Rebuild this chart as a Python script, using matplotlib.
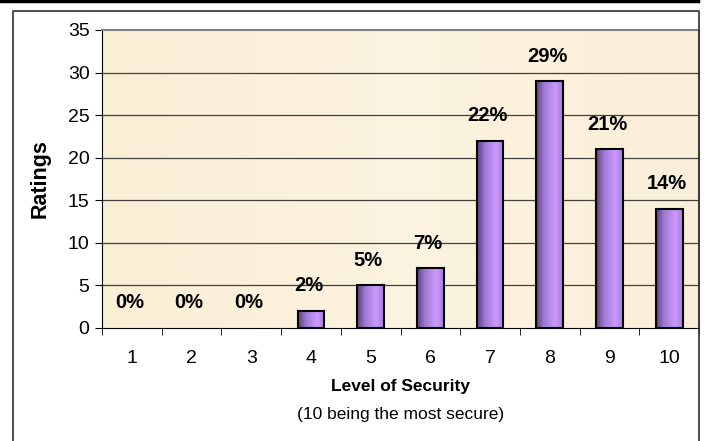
import numpy as np
import matplotlib
matplotlib.use("Agg")
import matplotlib.pyplot as plt
from matplotlib.patches import Rectangle
from matplotlib.lines import Line2D
from matplotlib.colors import LinearSegmentedColormap

categories = ["1", "2", "3", "4", "5", "6", "7", "8", "9", "10"]
ratings = [0, 0, 0, 2, 5, 7, 22, 29, 21, 14]
pct_labels = ["0%", "0%", "0%", "2%", "5%", "7%", "22%", "29%", "21%", "14%"]
y_ticks = [0, 5, 10, 15, 20, 25, 30, 35]

plt.rcParams['font.family'] = ['Liberation Sans', 'DejaVu Sans']

W, H = 704, 441
fig = plt.figure(figsize=(W / 100, H / 100), dpi=100)

# outer frame and top black line
fig.add_artist(Line2D([0, 698 / W], [1 - 1 / H, 1 - 1 / H], color='black', lw=2.5,
                      transform=fig.transFigure))
fig.add_artist(Line2D([13 / W, 13 / W, 699 / W, 699 / W],
                      [0, 1 - 11 / H, 1 - 11 / H, 0], color='#303030', lw=1.2,
                      transform=fig.transFigure))

left, right, top, bottom = 102, 699, 30, 328
ax = fig.add_axes([left / W, 1 - bottom / H, (right - left) / W, (bottom - top) / H])

# background gradient (beige)
bg = LinearSegmentedColormap.from_list('bg', ['#FAEED5', '#FCF3E0', '#FAEFD8'])
ax.imshow(np.linspace(0, 1, 256).reshape(1, -1), cmap=bg, aspect='auto',
          extent=[-0.5, len(categories) - 0.5, 0, 35], zorder=0)

x = np.arange(len(categories))
ax.set_xlim(-0.5, len(categories) - 0.5)
ax.set_ylim(0, 35)

for yv in y_ticks[1:-1]:
    ax.axhline(yv, color='#404040', lw=0.9, zorder=1)

bar_cmap = LinearSegmentedColormap.from_list(
    'bar', [(0.0, '#5E3E82'), (0.3, '#A07AD4'), (0.72, '#CC99FF'), (1.0, '#A87ED4')])
bars = ax.bar(x, ratings, width=0.45, color='none', edgecolor='black', linewidth=1.5, zorder=3)
for b in bars:
    if b.get_height() <= 0:
        b.set_linewidth(0)
        continue
    x0, w, h = b.get_x(), b.get_width(), b.get_height()
    im = ax.imshow(np.linspace(0, 1, 64).reshape(1, -1), cmap=bar_cmap, aspect='auto',
                   extent=[x0, x0 + w, 0, h], zorder=2)
    clip = Rectangle((x0, 0), w, h, transform=ax.transData)
    im.set_clip_path(clip)

for xi, v, lab in zip(x, ratings, pct_labels):
    ax.annotate(lab, (xi - 0.04, v), xytext=(0, 18), textcoords='offset points',
                ha='center', va='center', fontsize=14.5, fontweight='bold', zorder=5)

ax.set_yticks(y_ticks)
ax.set_yticklabels([str(t) for t in y_ticks], fontsize=14)
ax.set_xticks(x)
ax.set_xticklabels(categories, fontsize=14)
ax.tick_params(axis='x', length=0, pad=16)
ax.set_xticks(np.arange(-0.5, len(categories)), minor=True)
ax.tick_params(axis='x', which='minor', length=5, direction='out', color='black')
ax.tick_params(axis='y', length=5, direction='out', color='black', pad=4)

for s in ['top', 'right']:
    ax.spines[s].set_color('#808080')
    ax.spines[s].set_linewidth(1.5)
ax.spines['left'].set_color('black')
ax.spines['bottom'].set_color('black')

ax.set_ylabel('Ratings', fontsize=15.5, fontweight='bold', labelpad=12)
cx = (left + right) / 2 / W
fig.text(cx, 1 - 387 / H, 'Level of Security', ha='center', va='center',
         fontsize=12.5, fontweight='bold')
fig.text(cx, 1 - 414 / H, '(10 being the most secure)', ha='center',
         va='center', fontsize=12.5)

fig.savefig('out.png', dpi=100)
